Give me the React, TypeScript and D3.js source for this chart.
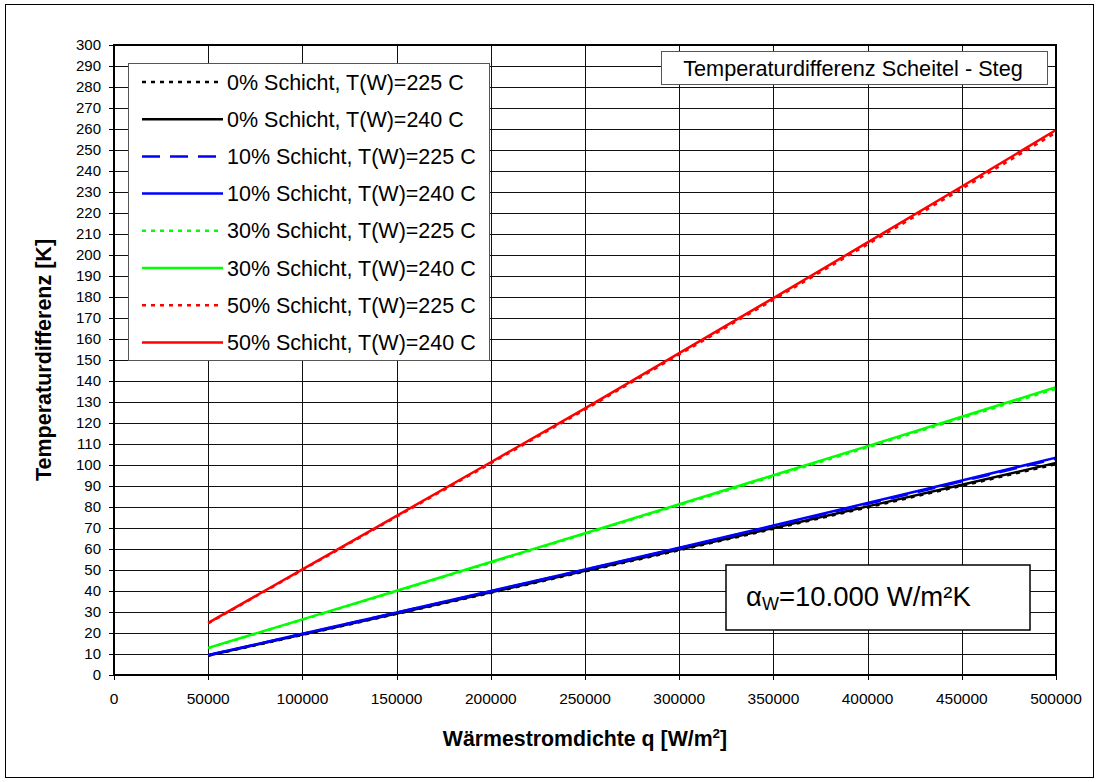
import React from 'react';
import * as d3 from 'd3';

// heat flux values (x axis) in W/m2
const qValues = [50000, 100000, 150000, 200000, 250000, 300000, 350000, 400000, 450000, 500000];

// temperature difference per series
const s0_225 = [9.2, 19.1, 29.1, 39.1, 49.3, 59.4, 69.6, 79.8, 90.1, 100.4];
const s0_240 = [9.3, 19.3, 29.3, 39.4, 49.6, 59.8, 70.0, 80.3, 90.6, 101.0];
const s10_225 = [9.4, 19.5, 29.7, 39.8, 50.1, 60.4, 70.9, 81.5, 92.2, 103.0];
const s10_240 = [9.5, 19.6, 29.8, 40.0, 50.3, 60.6, 71.2, 81.9, 92.6, 103.5];
const s30_225 = [12.8, 26.3, 39.9, 53.5, 67.2, 80.9, 94.6, 108.4, 122.4, 136.3];
const s30_240 = [12.9, 26.5, 40.1, 53.8, 67.5, 81.3, 95.1, 109.0, 123.0, 137.0];
const s50_225 = [24.6, 50.0, 75.4, 100.8, 126.4, 152.6, 178.7, 205.1, 231.5, 258.3];
const s50_240 = [24.8, 50.3, 75.8, 101.3, 127.0, 153.3, 179.5, 206.0, 232.6, 259.5];

const seriesNames = [
  '0% Schicht, T(W)=225 C',
  '0% Schicht, T(W)=240 C',
  '10% Schicht, T(W)=225 C',
  '10% Schicht, T(W)=240 C',
  '30% Schicht, T(W)=225 C',
  '30% Schicht, T(W)=240 C',
  '50% Schicht, T(W)=225 C',
  '50% Schicht, T(W)=240 C',
];
const seriesValues = [s0_225, s0_240, s10_225, s10_240, s30_225, s30_240, s50_225, s50_240];
const seriesColors = ['#000000', '#000000', '#0000ff', '#0000ff', '#00ff00', '#00ff00', '#ff0000', '#ff0000'];
const seriesDash = ['4,5', null, '18,10', null, '4,5', null, '4,5', null];

const xTicks = d3.range(0, 500001, 50000);
const yTicks = d3.range(0, 301, 10);

const font = '"Liberation Sans", Arial, sans-serif';

export default function App() {
  const width = 1098;
  const height = 782;
  const plot = { left: 114, top: 45, right: 1056, bottom: 675 };

  const x = d3.scaleLinear().domain([0, 500000]).range([plot.left, plot.right]);
  const y = d3.scaleLinear().domain([0, 300]).range([plot.bottom, plot.top]);

  const line = d3
    .line<number>()
    .x((_, i) => x(qValues[i]))
    .y((d) => y(d));

  const legend = { x: 128, y: 63, w: 361, h: 297, row: 37.2 };

  return (
    <svg
      width={width}
      height={height}
      style={{ position: 'absolute', left: 0, top: 0, background: '#fff' }}
      fontFamily={font}
    >
      <rect x={5.5} y={4.5} width={1088} height={773} fill="#fff" stroke="#000" strokeWidth={1} />

      {/* grid */}
      {yTicks.map((t) => (
        <line key={'gy' + t} x1={plot.left} x2={plot.right} y1={Math.round(y(t)) + 0.5} y2={Math.round(y(t)) + 0.5} stroke="#111" strokeWidth={1} />
      ))}
      {xTicks.map((t) => (
        <line key={'gx' + t} y1={plot.top} y2={plot.bottom} x1={Math.round(x(t)) + 0.5} x2={Math.round(x(t)) + 0.5} stroke="#111" strokeWidth={1} />
      ))}

      {/* ticks and labels */}
      {yTicks.map((t) => (
        <g key={'ty' + t}>
          <line x1={plot.left - 5} x2={plot.left} y1={Math.round(y(t)) + 0.5} y2={Math.round(y(t)) + 0.5} stroke="#000" />
          <text x={101} y={y(t) + 5} fontSize={15} textAnchor="end" fill="#000">
            {t}
          </text>
        </g>
      ))}
      {xTicks.map((t) => (
        <g key={'tx' + t}>
          <line y1={plot.bottom} y2={plot.bottom + 5} x1={Math.round(x(t)) + 0.5} x2={Math.round(x(t)) + 0.5} stroke="#000" />
          <text x={x(t)} y={704} fontSize={15.5} textAnchor="middle" fill="#000">
            {t}
          </text>
        </g>
      ))}

      {/* series */}
      {seriesValues.map((vals, i) => (
        <path
          key={'s' + i}
          d={line(vals) || ''}
          fill="none"
          stroke={seriesColors[i]}
          strokeWidth={2.5}
          strokeDasharray={seriesDash[i] || undefined}
        />
      ))}

      {/* plot border */}
      <rect x={plot.left} y={plot.top} width={plot.right - plot.left} height={plot.bottom - plot.top} fill="none" stroke="#000" strokeWidth={2} />

      {/* legend */}
      <rect x={legend.x + 0.5} y={legend.y + 0.5} width={legend.w} height={legend.h} fill="#fff" stroke="#555" strokeWidth={1} />
      {seriesNames.map((name, i) => {
        const ly = 82 + i * legend.row;
        return (
          <g key={'lg' + i}>
            <line x1={142} x2={223} y1={ly} y2={ly} stroke={seriesColors[i]} strokeWidth={2.5} strokeDasharray={seriesDash[i] || undefined} />
            <text x={227} y={ly + 7.5} fontSize={21.5} fill="#000">
              {name}
            </text>
          </g>
        );
      })}

      {/* title box */}
      <rect x={661.5} y={51.5} width={386} height={33} fill="#fff" stroke="#555" strokeWidth={1} />
      <text x={853} y={75.5} fontSize={21.7} textAnchor="middle" fill="#000">
        Temperaturdifferenz Scheitel - Steg
      </text>

      {/* alpha box */}
      <rect x={726} y={565} width={304} height={65} fill="#fff" stroke="#000" strokeWidth={1.5} />
      <text x={746} y={606} fontSize={27.5} fill="#000">
        <tspan>α</tspan>
        <tspan fontSize={18} dy={4}>W</tspan>
        <tspan dy={-4}>=10.000 W/m²K</tspan>
      </text>

      {/* axis titles */}
      <text x={(plot.left + plot.right) / 2} y={746} fontSize={21.3} fontWeight="bold" textAnchor="middle" fill="#000">
        Wärmestromdichte q [W/m
        <tspan fontSize={13.5} dy={-8}>2</tspan>
        <tspan dy={8}>]</tspan>
      </text>
      <text
        transform={`translate(51, ${(plot.top + plot.bottom) / 2}) rotate(-90)`}
        fontSize={21.5}
        fontWeight="bold"
        textAnchor="middle"
        fill="#000"
      >
        Temperaturdifferenz [K]
      </text>
    </svg>
  );
}
